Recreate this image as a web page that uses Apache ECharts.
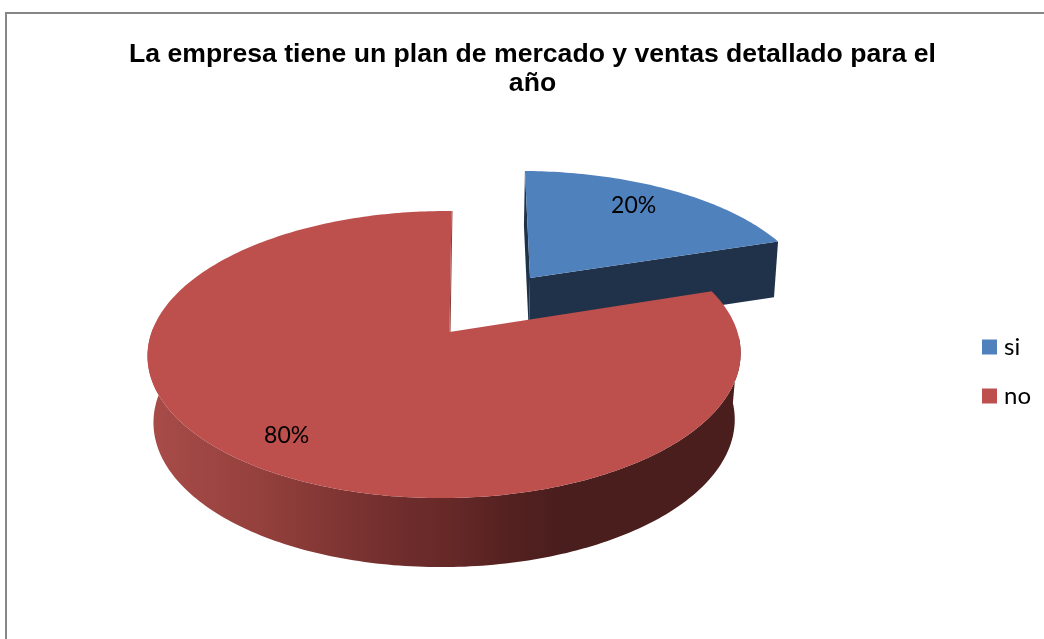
<!DOCTYPE html>
<html><head><meta charset="utf-8">
<style>html,body{margin:0;padding:0;background:#fff}#c{width:1044px;height:639px}</style>
<script src="https://cdn.jsdelivr.net/npm/echarts@6/dist/echarts.min.js"></script></head>
<body><div id="c"></div>
<script>
const titleText = 'La empresa tiene un plan de mercado y ventas detallado para el\naño';
const categories = ['si', 'no'];
const values = [20, 80];

const total = values.reduce((a, b) => a + b, 0);
const RAD = Math.PI / 180;
// Perspective of each slice: where its tip lands and how its disc is foreshortened.
const views = {
  si: {ox: 530, oy: 278, A: 282, a: 127, k: 0.187, m: 0.0168, sh: 6, depth: 56, depthV: 1, sx: 0.012, pivot: 440, labelR: 0.75, labelDx: -4, labelDy: -4},
  no: {ox: 449.5, oy: 332, A: 292.8, a: 140, k: 0.157, m: 0.0168, sh: -2.3, depth: 66, depthV: 3, sx: 0.02, pivot: 445, labelR: 0.83, labelDx: 0, labelDy: -2}
};
function project(view, r, deg, bottom) {
  const u = r * Math.sin(deg * RAD), v = -r * Math.cos(deg * RAD);
  const w = 1 - view.k * v + view.m * u;
  let x = view.ox + (view.A * u + view.sh * v) / w;
  let y = view.oy + view.a * v / w;
  if (bottom) {
    x -= (x - view.pivot) * view.sx;
    y += view.depth + view.depthV * v;
  }
  return [x, y];
}
function arc(view, from, to, bottom) {
  const pts = [], n = Math.max(8, Math.round(Math.abs(to - from)));
  for (let i = 0; i <= n; i++) pts.push(project(view, 1, from + (to - from) * i / n, bottom));
  return pts;
}
const poly = (points, fill, z2) => ({type: 'polygon', z2: z2 || 0, shape: {points}, style: {fill}});
const redWall = {type: 'linear', x: 150, y: 0, x2: 560, y2: 0, global: true, colorStops: [
  {offset: 0, color: '#a84c49'}, {offset: 0.27, color: '#94403c'}, {offset: 0.61, color: '#6f2d2c'},
  {offset: 0.73, color: '#662928'}, {offset: 0.88, color: '#532120'}, {offset: 1, color: '#4a1e1d'}]};

function sliceRender(idx, topColor) {
  return function () {
    const name = categories[idx];
    const view = views[name];
    let before = 0;
    for (let i = 0; i < idx; i++) before += values[i];
    const start = before / total * 360;
    const end = (before + values[idx]) / total * 360;
    const mid = (start + end) / 2;
    const kids = [];
    const tipTop = project(view, 0, 0, false), tipBottom = project(view, 0, 0, true);
    if (name === 'si') {
      kids.push(poly([project(view, 1, start, false), tipTop, tipBottom, project(view, 1, start, true)], '#1f3249'));
      kids.push(poly([project(view, 1, end, false), tipTop, tipBottom, project(view, 1, end, true)], '#1f3249'));
    } else {
      const a0 = Math.max(start, 92), a1 = Math.min(end, 272);
      kids.push(poly(arc(view, a0, a1, false).concat(arc(view, a1, a0, true)), redWall));
      const s = project(view, 1, end, false);
      kids.push({type: 'polyline', shape: {points: [[s[0] + 0.5, s[1]], [tipTop[0] + 0.5, tipTop[1]]]},
        style: {stroke: '#8a3a38', lineWidth: 1, fill: null}});
    }
    kids.push(poly([tipTop].concat(arc(view, start, end, false)), topColor, 1));
    const lp = project(view, view.labelR, mid, false);
    kids.push({type: 'text', z2: 2, x: lp[0] + view.labelDx, y: lp[1] + view.labelDy, style: {
      text: Math.round(values[idx] / total * 100) + '%', fill: '#000',
      font: '23px Lato', align: 'center', verticalAlign: 'middle'}});
    return {type: 'group', children: kids};
  };
}
const colors = ['#4f81bd', '#bd4f4c'];
const chart = echarts.init(document.getElementById('c'), null, {renderer: 'canvas'});
chart.setOption({
  animation: false,
  backgroundColor: '#fff',
  title: {text: titleText, left: 527.5, top: 35, textAlign: 'center',
    textStyle: {fontFamily: 'Liberation Sans', fontWeight: 'bold', fontSize: 26.6, lineHeight: 29, color: '#000'}},
  legend: {orient: 'vertical', left: 977, top: 330, itemWidth: 15, itemHeight: 15, itemGap: 25,
    icon: 'rect', data: categories,
    textStyle: {fontFamily: 'Lato', fontSize: 24, color: '#000', padding: [0, 0, 0, 2]}},
  graphic: [{type: 'polyline', silent: true, shape: {points: [[6, 639], [6, 13], [1044, 13]]},
    style: {stroke: '#868686', lineWidth: 2, fill: null}}],
  series: categories.map((name, i) => ({
    name, type: 'custom', coordinateSystem: 'none', silent: true, z: 2 + i,
    itemStyle: {color: colors[i]},
    renderItem: sliceRender(i, colors[i]),
    data: [values[i]]
  }))
});
</script></body></html>
